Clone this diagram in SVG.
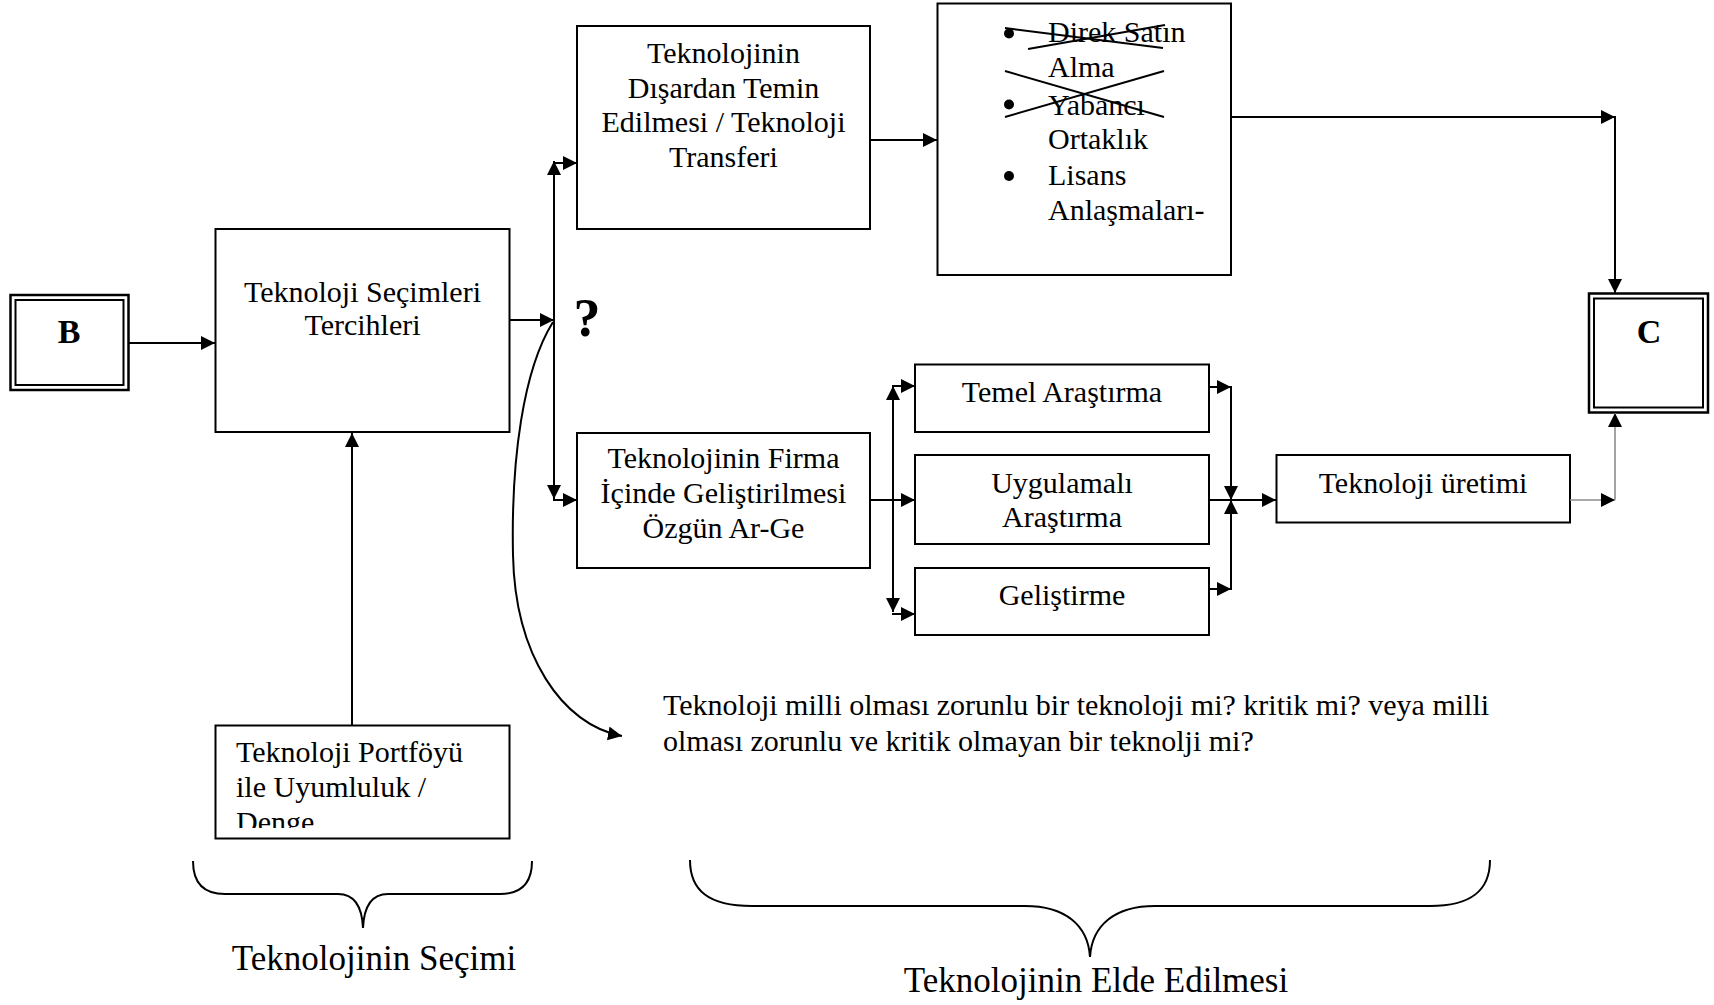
<svg xmlns="http://www.w3.org/2000/svg" width="1714" height="1005" viewBox="0 0 1714 1005">
  <style>
    .box { fill: #fff; stroke: #000; stroke-width: 2; }
    .dbl { fill: none; stroke: #000; }
    .t { font-family: "Liberation Serif", "Times New Roman", serif; font-size: 30px; fill: #000; }
    .mid { text-anchor: middle; }
    .big { font-family: "Liberation Serif", "Times New Roman", serif; font-size: 35px; fill: #000; text-anchor: middle; }
    .bold { font-family: "Liberation Serif", "Times New Roman", serif; font-size: 34px; font-weight: bold; fill: #000; text-anchor: middle; }
    .ln { fill: none; stroke: #000; stroke-width: 2; }
    .arr { fill: none; stroke: #000; stroke-width: 2; marker-end: url(#ah); }
    .gray { fill: none; stroke: #8c8c8c; stroke-width: 1.6; marker-end: url(#ah); }
    .cross { stroke: #000; stroke-width: 2; }
  </style>
  <defs>
    <marker id="ah" markerUnits="userSpaceOnUse" markerWidth="15" markerHeight="15" refX="14" refY="7" orient="auto">
      <path d="M0,0 L14,7 L0,14 z" fill="#000"/>
    </marker>
    <clipPath id="clipPortfoy">
      <rect x="215" y="725" width="295" height="103"/>
    </clipPath>
  </defs>
  <rect width="1714" height="1005" fill="#fff"/>

  <!-- start node B -->
  <g id="node-b">
    <rect class="dbl" x="10.5" y="295" width="118" height="95" stroke-width="2.5"/>
    <rect class="dbl" x="15.5" y="300" width="108" height="85" stroke-width="2"/>
    <text class="bold" x="69" y="343">B</text>
  </g>

  <!-- technology selection preferences -->
  <g id="node-secim">
    <rect class="box" x="215.5" y="229" width="294" height="203"/>
    <text class="t mid" x="362.5" y="302">Teknoloji Seçimleri</text>
    <text class="t mid" x="362.5" y="335">Tercihleri</text>
  </g>

  <!-- portfolio fit -->
  <g id="node-portfoy">
    <rect class="box" x="215.5" y="725.5" width="294" height="113"/>
    <g clip-path="url(#clipPortfoy)">
      <text class="t" x="236" y="762">Teknoloji Portföyü</text>
      <text class="t" x="236" y="797">ile Uyumluluk /</text>
      <text class="t" x="236" y="832">Denge</text>
    </g>
  </g>

  <!-- external acquisition -->
  <g id="node-disardan">
    <rect class="box" x="577" y="26" width="293" height="203"/>
    <text class="t mid" x="723.5" y="63">Teknolojinin</text>
    <text class="t mid" x="723.5" y="98">Dışardan Temin</text>
    <text class="t mid" x="723.5" y="132">Edilmesi / Teknoloji</text>
    <text class="t mid" x="723.5" y="167">Transferi</text>
  </g>

  <!-- acquisition methods -->
  <g id="node-yontemler">
    <rect class="box" x="937.5" y="3.5" width="293.5" height="271.5"/>
    <circle cx="1009" cy="33.5" r="5"/>
    <circle cx="1009" cy="104.5" r="5"/>
    <circle cx="1009" cy="176" r="5"/>
    <text class="t" x="1048" y="42">Direk Satın</text>
    <text class="t" x="1048" y="77">Alma</text>
    <text class="t" x="1048" y="115">Yabancı</text>
    <text class="t" x="1048" y="149">Ortaklık</text>
    <text class="t" x="1048" y="185">Lisans</text>
    <text class="t" x="1048" y="220">Anlaşmaları-</text>
    <line class="cross" x1="1005" y1="28" x2="1163" y2="48"/>
    <line class="cross" x1="1028" y1="49" x2="1165" y2="25"/>
    <line class="cross" x1="1005" y1="71" x2="1164" y2="117"/>
    <line class="cross" x1="1005" y1="117" x2="1164" y2="71"/>
  </g>

  <!-- in-house development -->
  <g id="node-firma">
    <rect class="box" x="577" y="433" width="293" height="135"/>
    <text class="t mid" x="723.5" y="468">Teknolojinin Firma</text>
    <text class="t mid" x="723.5" y="503">İçinde Geliştirilmesi</text>
    <text class="t mid" x="723.5" y="538">Özgün Ar-Ge</text>
  </g>

  <g id="node-temel">
    <rect class="box" x="915" y="364.5" width="294" height="67.5"/>
    <text class="t mid" x="1062" y="402">Temel Araştırma</text>
  </g>

  <g id="node-uygulamali">
    <rect class="box" x="915" y="455" width="294" height="89"/>
    <text class="t mid" x="1062" y="493">Uygulamalı</text>
    <text class="t mid" x="1062" y="527">Araştırma</text>
  </g>

  <g id="node-gelistirme">
    <rect class="box" x="915" y="568" width="294" height="67"/>
    <text class="t mid" x="1062" y="605">Geliştirme</text>
  </g>

  <g id="node-uretim">
    <rect class="box" x="1276.5" y="455" width="293.5" height="67.5"/>
    <text class="t mid" x="1423" y="493">Teknoloji üretimi</text>
  </g>

  <!-- end node C -->
  <g id="node-c">
    <rect class="dbl" x="1589" y="293.5" width="119" height="119" stroke-width="2.5"/>
    <rect class="dbl" x="1594" y="298.5" width="109" height="109" stroke-width="2"/>
    <text class="bold" x="1649" y="343">C</text>
  </g>

  <!-- question and annotation -->
  <g id="node-soru">
    <text x="587" y="336" font-family="Liberation Serif, Times New Roman, serif" font-size="54" font-weight="bold" text-anchor="middle">?</text>
  </g>
  <g id="node-not">
    <text class="t" x="663" y="715">Teknoloji milli olması zorunlu bir teknoloji mi? kritik mi? veya milli</text>
    <text class="t" x="663" y="751">olması zorunlu ve kritik olmayan bir teknolji mi?</text>
  </g>

  <!-- phase braces and captions -->
  <g id="node-secimi">
    <path class="ln" d="M193,861 C193,882 203,894 225,894 L338,894 C354,894 362,906 363,928 C364,906 372,894 388,894 L500,894 C522,894 532,882 532,861"/>
    <text class="big" x="374" y="970">Teknolojinin Seçimi</text>
  </g>
  <g id="node-elde">
    <path class="ln" d="M690,860 C690,890 708,906 752,906 L1025,906 C1065,906 1088,925 1090,957 C1092,925 1115,906 1155,906 L1430,906 C1472,906 1490,890 1490,860"/>
    <text class="big" x="1096" y="992">Teknolojinin Elde Edilmesi</text>
  </g>

  <!-- connectors -->
  <g id="connectors">
    <line class="arr" x1="129" y1="343" x2="215" y2="343"/>
    <line class="arr" x1="352" y1="725" x2="352" y2="433"/>
    <line class="arr" x1="509" y1="320" x2="554" y2="320"/>
    <line class="arr" x1="554" y1="320" x2="554" y2="161"/>
    <line class="arr" x1="554" y1="320" x2="554" y2="499"/>
    <line class="arr" x1="553" y1="163" x2="577" y2="163"/>
    <line class="arr" x1="553" y1="500" x2="577" y2="500"/>
    <path class="arr" d="M553,322 C523,370 511,460 513,555 C515,655 562,725 622,736" stroke-width="1.8"/>
    <line class="arr" x1="870" y1="140" x2="937" y2="140"/>
    <line class="arr" x1="1231" y1="117" x2="1615" y2="117"/>
    <line class="arr" x1="1615" y1="116" x2="1615" y2="293"/>
    <line class="arr" x1="870" y1="500" x2="915" y2="500"/>
    <line class="arr" x1="893" y1="500" x2="893" y2="386"/>
    <line class="arr" x1="893" y1="500" x2="893" y2="612"/>
    <line class="arr" x1="892" y1="386" x2="915" y2="386"/>
    <line class="arr" x1="892" y1="614" x2="915" y2="614"/>
    <line class="arr" x1="1209" y1="387" x2="1231" y2="387"/>
    <line class="arr" x1="1209" y1="589" x2="1231" y2="589"/>
    <line class="arr" x1="1231" y1="386" x2="1231" y2="500"/>
    <line class="arr" x1="1231" y1="590" x2="1231" y2="500"/>
    <line class="arr" x1="1209" y1="500" x2="1276" y2="500"/>
    <line class="gray" x1="1570" y1="500" x2="1615" y2="500"/>
    <line class="gray" x1="1615" y1="500" x2="1615" y2="413"/>
  </g>
</svg>
